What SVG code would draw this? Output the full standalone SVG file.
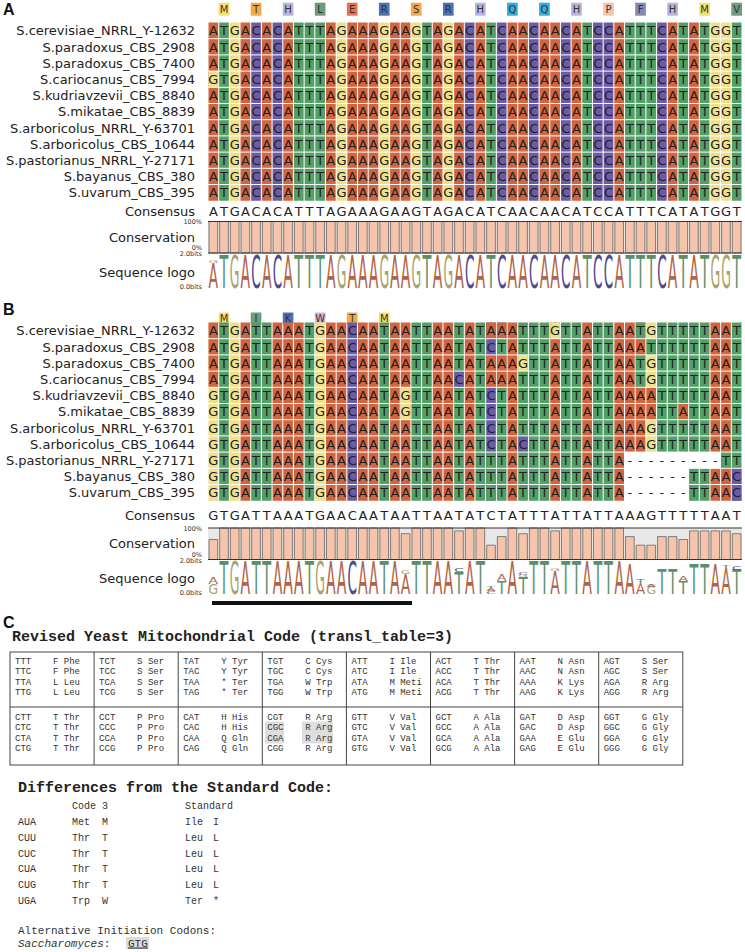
<svg xmlns="http://www.w3.org/2000/svg" xmlns:xlink="http://www.w3.org/1999/xlink" width="745" height="952" viewBox="0 0 745 952">
<style>
text{font-family:"DejaVu Sans",sans-serif}
.pl{font-family:"Liberation Sans",Arial,sans-serif;font-weight:bold;font-size:16px;fill:#111}
.nm{font-size:13px;fill:#222;text-anchor:end}
.sq{font-size:13px;fill:#222;text-anchor:middle}
.sm{font-size:6.5px;fill:#333;text-anchor:end}
.aa text{font-size:10px;fill:#333;text-anchor:middle}
.ca,.ct,.cg,.cc{fill:none;stroke-width:9.68}
.ca{stroke:#d2643f}.ct{stroke:#52a067}.cg{stroke:#efe08b}.cc{stroke:#6b5ca8}
.gl{stroke:#fff;stroke-width:1;fill:none}
.bar{fill:#f6c3ab;stroke:#666;stroke-width:0.8}
.bg{fill:#e8e8e8}
.ax{stroke:#333;stroke-width:1}
.L{font-size:10px;text-anchor:middle}
.la{fill:#b0644a}.lt{fill:#5b8e6b}.lg{fill:#a9a36b}.lc{fill:#4f4a8d}
.tt{font-family:"Liberation Mono",monospace;font-weight:bold;font-size:15px;fill:#222}
.tb{font-family:"Liberation Mono",monospace;font-size:9px;fill:#333}
.df{font-family:"Liberation Mono",monospace;font-size:10px;fill:#333}
.al{font-family:"Liberation Mono",monospace;font-size:11px;fill:#333}
</style>
<defs>
<text id="sA" class="sq" x="213.34 224.02 234.7 245.38 256.06 266.74 277.42 288.1 298.78 309.46 320.14 330.82 341.5 352.18 362.86 373.54 384.22 394.9 405.58 416.26 426.94 437.62 448.3 458.98 469.66 480.34 491.02 501.7 512.38 523.06 533.74 544.42 555.1 565.78 576.46 587.14 597.82 608.5 619.18 629.86 640.54 651.22 661.9 672.58 683.26 693.94 704.62 715.3 725.98 736.66">ATGACACATTTAGAAAGAAGTAGACATCAACAACATCCATTTCATATGGT</text>
<text id="sA3" class="sq" x="213.34 224.02 234.7 245.38 256.06 266.74 277.42 288.1 298.78 309.46 320.14 330.82 341.5 352.18 362.86 373.54 384.22 394.9 405.58 416.26 426.94 437.62 448.3 458.98 469.66 480.34 491.02 501.7 512.38 523.06 533.74 544.42 555.1 565.78 576.46 587.14 597.82 608.5 619.18 629.86 640.54 651.22 661.9 672.58 683.26 693.94 704.62 715.3 725.98 736.66">GTGACACATTTAGAAAGAAGTAGACATCAACAACATCCATTTCATATGGT</text>
<text id="b0" class="sq" x="213.34 224.02 234.7 245.38 256.06 266.74 277.42 288.1 298.78 309.46 320.14 330.82 341.5 352.18 362.86 373.54 384.22 394.9 405.58 416.26 426.94 437.62 448.3 458.98 469.66 480.34 491.02 501.7 512.38 523.06 533.74 544.42 555.1 565.78 576.46 587.14 597.82 608.5 619.18 629.86 640.54 651.22 661.9 672.58 683.26 693.94 704.62 715.3 725.98 736.66">ATGATTAAATGAACAATAATTAATATAAATTTGTTATTAATGTTTTTAAT</text>
<text id="b1" class="sq" x="213.34 224.02 234.7 245.38 256.06 266.74 277.42 288.1 298.78 309.46 320.14 330.82 341.5 352.18 362.86 373.54 384.22 394.9 405.58 416.26 426.94 437.62 448.3 458.98 469.66 480.34 491.02 501.7 512.38 523.06 533.74 544.42 555.1 565.78 576.46 587.14 597.82 608.5 619.18 629.86 640.54 651.22 661.9 672.58 683.26 693.94 704.62 715.3 725.98 736.66">ATGATTAAATGAACAATAATTAATATCTATTTATTATTAAATTTTTTAAT</text>
<text id="b2" class="sq" x="213.34 224.02 234.7 245.38 256.06 266.74 277.42 288.1 298.78 309.46 320.14 330.82 341.5 352.18 362.86 373.54 384.22 394.9 405.58 416.26 426.94 437.62 448.3 458.98 469.66 480.34 491.02 501.7 512.38 523.06 533.74 544.42 555.1 565.78 576.46 587.14 597.82 608.5 619.18 629.86 640.54 651.22 661.9 672.58 683.26 693.94 704.62 715.3 725.98 736.66">ATGATTAAATGAACAATAATTAATATAAAGTTATTATTAATGTTTTTAAT</text>
<text id="b3" class="sq" x="213.34 224.02 234.7 245.38 256.06 266.74 277.42 288.1 298.78 309.46 320.14 330.82 341.5 352.18 362.86 373.54 384.22 394.9 405.58 416.26 426.94 437.62 448.3 458.98 469.66 480.34 491.02 501.7 512.38 523.06 533.74 544.42 555.1 565.78 576.46 587.14 597.82 608.5 619.18 629.86 640.54 651.22 661.9 672.58 683.26 693.94 704.62 715.3 725.98 736.66">ATGATTAAATGAACAATAATTAACATAAATTTATTATTAATGTTTTTAAT</text>
<text id="b4" class="sq" x="213.34 224.02 234.7 245.38 256.06 266.74 277.42 288.1 298.78 309.46 320.14 330.82 341.5 352.18 362.86 373.54 384.22 394.9 405.58 416.26 426.94 437.62 448.3 458.98 469.66 480.34 491.02 501.7 512.38 523.06 533.74 544.42 555.1 565.78 576.46 587.14 597.82 608.5 619.18 629.86 640.54 651.22 661.9 672.58 683.26 693.94 704.62 715.3 725.98 736.66">GTGATTAAATGAACAATAGTTAATATCTATTTATTATTAAAATTTTTAAT</text>
<text id="b5" class="sq" x="213.34 224.02 234.7 245.38 256.06 266.74 277.42 288.1 298.78 309.46 320.14 330.82 341.5 352.18 362.86 373.54 384.22 394.9 405.58 416.26 426.94 437.62 448.3 458.98 469.66 480.34 491.02 501.7 512.38 523.06 533.74 544.42 555.1 565.78 576.46 587.14 597.82 608.5 619.18 629.86 640.54 651.22 661.9 672.58 683.26 693.94 704.62 715.3 725.98 736.66">GTGATTAAATGAACAATAGTTAATATCTATTTATTATTAAAATTATTAAT</text>
<text id="b6" class="sq" x="213.34 224.02 234.7 245.38 256.06 266.74 277.42 288.1 298.78 309.46 320.14 330.82 341.5 352.18 362.86 373.54 384.22 394.9 405.58 416.26 426.94 437.62 448.3 458.98 469.66 480.34 491.02 501.7 512.38 523.06 533.74 544.42 555.1 565.78 576.46 587.14 597.82 608.5 619.18 629.86 640.54 651.22 661.9 672.58 683.26 693.94 704.62 715.3 725.98 736.66">GTGATTAAATGAACAATAATTAATATCTATTTATTATTAAAGTTTTTAAT</text>
<text id="b7" class="sq" x="213.34 224.02 234.7 245.38 256.06 266.74 277.42 288.1 298.78 309.46 320.14 330.82 341.5 352.18 362.86 373.54 384.22 394.9 405.58 416.26 426.94 437.62 448.3 458.98 469.66 480.34 491.02 501.7 512.38 523.06 533.74 544.42 555.1 565.78 576.46 587.14 597.82 608.5 619.18 629.86 640.54 651.22 661.9 672.58 683.26 693.94 704.62 715.3 725.98 736.66">GTGATTAAATGAACAATAATTAATATCTACTTATTATTAAAGTTTTTAAT</text>
<text id="b8" class="sq" x="213.34 224.02 234.7 245.38 256.06 266.74 277.42 288.1 298.78 309.46 320.14 330.82 341.5 352.18 362.86 373.54 384.22 394.9 405.58 416.26 426.94 437.62 448.3 458.98 469.66 480.34 491.02 501.7 512.38 523.06 533.74 544.42 555.1 565.78 576.46 587.14 597.82 608.5 619.18 629.86 640.54 651.22 661.9 672.58 683.26 693.94 704.62 715.3 725.98 736.66">GTGATTAAATGAACAATAATTAATATTTATTTATTATTA---------TT</text>
<text id="b9" class="sq" x="213.34 224.02 234.7 245.38 256.06 266.74 277.42 288.1 298.78 309.46 320.14 330.82 341.5 352.18 362.86 373.54 384.22 394.9 405.58 416.26 426.94 437.62 448.3 458.98 469.66 480.34 491.02 501.7 512.38 523.06 533.74 544.42 555.1 565.78 576.46 587.14 597.82 608.5 619.18 629.86 640.54 651.22 661.9 672.58 683.26 693.94 704.62 715.3 725.98 736.66">GTGATTAAATGAACAATAATTAATATTTATTTATTATTA------TTAAC</text>
<text id="bc" class="sq" x="213.34 224.02 234.7 245.38 256.06 266.74 277.42 288.1 298.78 309.46 320.14 330.82 341.5 352.18 362.86 373.54 384.22 394.9 405.58 416.26 426.94 437.62 448.3 458.98 469.66 480.34 491.02 501.7 512.38 523.06 533.74 544.42 555.1 565.78 576.46 587.14 597.82 608.5 619.18 629.86 640.54 651.22 661.9 672.58 683.26 693.94 704.62 715.3 725.98 736.66">GTGATTAAATGAACAATAATTAATATCTATTTATTATTAAAGTTTTTAAT</text>
<path id="hgrid" class="gl" d="M208 38.7H742M208 54.9H742M208 71.1H742M208 87.3H742M208 103.5H742M208 119.7H742M208 135.9H742M208 152.1H742M208 168.3H742M208 184.5H742"/>
</defs>

<g id="labels">
<text class="pl" x="3" y="15">A</text>
<text class="pl" x="3" y="315">B</text>
<text class="pl" x="3" y="628">C</text>
</g>

<g id="panelA-names" class="nm">
<text class="nm" x="195" y="35.3">S.cerevisiae_NRRL_Y-12632</text>
<text class="nm" x="195" y="51.5">S.paradoxus_CBS_2908</text>
<text class="nm" x="195" y="67.7">S.paradoxus_CBS_7400</text>
<text class="nm" x="195" y="83.9">S.cariocanus_CBS_7994</text>
<text class="nm" x="195" y="100.1">S.kudriavzevii_CBS_8840</text>
<text class="nm" x="195" y="116.3">S.mikatae_CBS_8839</text>
<text class="nm" x="195" y="132.5">S.arboricolus_NRRL_Y-63701</text>
<text class="nm" x="195" y="148.7">S.arboricolus_CBS_10644</text>
<text class="nm" x="195" y="164.9">S.pastorianus_NRRL_Y-27171</text>
<text class="nm" x="195" y="181.1">S.bayanus_CBS_380</text>
<text class="nm" x="195" y="197.3">S.uvarum_CBS_395</text>
<text class="nm" x="195" y="215.5">Consensus</text>
<text class="nm" x="195" y="242">Conservation</text>
<text class="nm" x="195" y="276.5">Sequence logo</text>
<text class="sm" x="202" y="224">100%</text>
<text class="sm" x="202" y="250">0%</text>
<text class="sm" x="202" y="255.5">2.0bits</text>
<text class="sm" x="202" y="288.5">0.0bits</text>
</g>

<g id="panelB-names">
<text class="nm" x="195" y="335.3">S.cerevisiae_NRRL_Y-12632</text>
<text class="nm" x="195" y="351.5">S.paradoxus_CBS_2908</text>
<text class="nm" x="195" y="367.7">S.paradoxus_CBS_7400</text>
<text class="nm" x="195" y="383.9">S.cariocanus_CBS_7994</text>
<text class="nm" x="195" y="400.1">S.kudriavzevii_CBS_8840</text>
<text class="nm" x="195" y="416.3">S.mikatae_CBS_8839</text>
<text class="nm" x="195" y="432.5">S.arboricolus_NRRL_Y-63701</text>
<text class="nm" x="195" y="448.7">S.arboricolus_CBS_10644</text>
<text class="nm" x="195" y="464.9">S.pastorianus_NRRL_Y-27171</text>
<text class="nm" x="195" y="481.1">S.bayanus_CBS_380</text>
<text class="nm" x="195" y="497.3">S.uvarum_CBS_395</text>
<text class="nm" x="195" y="520">Consensus</text>
<text class="nm" x="195" y="547.5">Conservation</text>
<text class="nm" x="195" y="582.5">Sequence logo</text>
<text class="sm" x="202" y="530.5">100%</text>
<text class="sm" x="202" y="557">0%</text>
<text class="sm" x="202" y="562.5">2.0bits</text>
<text class="sm" x="202" y="594.5">0.0bits</text>
</g>

<g id="aaA" class="aa">
<rect x="218.68" y="2.7" width="10.68" height="13" fill="#f3e06e"/><text x="224.02" y="12.8">M</text>
<rect x="250.72" y="2.7" width="10.68" height="13" fill="#f2a94a"/><text x="256.06" y="12.8">T</text>
<rect x="282.76" y="2.7" width="10.68" height="13" fill="#b9b5d9"/><text x="288.1" y="12.8">H</text>
<rect x="314.8" y="2.7" width="10.68" height="13" fill="#6b9b7b"/><text x="320.14" y="12.8">L</text>
<rect x="346.84" y="2.7" width="10.68" height="13" fill="#e5714f"/><text x="352.18" y="12.8">E</text>
<rect x="378.88" y="2.7" width="10.68" height="13" fill="#4e72b1"/><text x="384.22" y="12.8">R</text>
<rect x="410.92" y="2.7" width="10.68" height="13" fill="#f3a94b"/><text x="416.26" y="12.8">S</text>
<rect x="442.96" y="2.7" width="10.68" height="13" fill="#4e72b1"/><text x="448.3" y="12.8">R</text>
<rect x="475" y="2.7" width="10.68" height="13" fill="#b9b5d9"/><text x="480.34" y="12.8">H</text>
<rect x="507.04" y="2.7" width="10.68" height="13" fill="#33afd9"/><text x="512.38" y="12.8">Q</text>
<rect x="539.08" y="2.7" width="10.68" height="13" fill="#33afd9"/><text x="544.42" y="12.8">Q</text>
<rect x="571.12" y="2.7" width="10.68" height="13" fill="#b9b5d9"/><text x="576.46" y="12.8">H</text>
<rect x="603.16" y="2.7" width="10.68" height="13" fill="#f1c4ad"/><text x="608.5" y="12.8">P</text>
<rect x="635.2" y="2.7" width="10.68" height="13" fill="#8a85b9"/><text x="640.54" y="12.8">F</text>
<rect x="667.24" y="2.7" width="10.68" height="13" fill="#b9b5d9"/><text x="672.58" y="12.8">H</text>
<rect x="699.28" y="2.7" width="10.68" height="13" fill="#f3e06e"/><text x="704.62" y="12.8">M</text>
<rect x="731.32" y="2.7" width="10.68" height="13" fill="#6f9b80"/><text x="736.66" y="12.8">V</text>
</g>

<g id="aaB" class="aa">
<rect x="218.68" y="312.5" width="10.68" height="12" fill="#f3e06e"/><text x="224.02" y="322">M</text>
<rect x="250.72" y="312.5" width="10.68" height="12" fill="#6f9b80"/><text x="256.06" y="322">I</text>
<rect x="282.76" y="312.5" width="10.68" height="12" fill="#4e72b8"/><text x="288.1" y="322">K</text>
<rect x="314.8" y="312.5" width="10.68" height="12" fill="#d8b5d3"/><text x="320.14" y="322">W</text>
<rect x="346.84" y="312.5" width="10.68" height="12" fill="#f2a94a"/><text x="352.18" y="322">T</text>
<rect x="378.88" y="312.5" width="10.68" height="12" fill="#f3e06e"/><text x="384.22" y="322">M</text>
</g>

<g id="cellsA">
<path class="ca" d="M213.34 22.5V200.7M245.38 22.5V200.7M266.74 22.5V200.7M288.1 22.5V200.7M330.82 22.5V200.7M352.18 22.5V200.7M362.86 22.5V200.7M373.54 22.5V200.7M394.9 22.5V200.7M405.58 22.5V200.7M437.62 22.5V200.7M458.98 22.5V200.7M480.34 22.5V200.7M512.38 22.5V200.7M523.06 22.5V200.7M544.42 22.5V200.7M555.1 22.5V200.7M576.46 22.5V200.7M619.18 22.5V200.7M672.58 22.5V200.7M693.94 22.5V200.7"/>
<path class="ct" d="M224.02 22.5V200.7M298.78 22.5V200.7M309.46 22.5V200.7M320.14 22.5V200.7M426.94 22.5V200.7M491.02 22.5V200.7M587.14 22.5V200.7M629.86 22.5V200.7M640.54 22.5V200.7M651.22 22.5V200.7M683.26 22.5V200.7M704.62 22.5V200.7M736.66 22.5V200.7"/>
<path class="cg" d="M234.7 22.5V200.7M341.5 22.5V200.7M384.22 22.5V200.7M416.26 22.5V200.7M448.3 22.5V200.7M715.3 22.5V200.7M725.98 22.5V200.7M213.34 71.1V87.3"/>
<path class="cc" d="M256.06 22.5V200.7M277.42 22.5V200.7M469.66 22.5V200.7M501.7 22.5V200.7M533.74 22.5V200.7M565.78 22.5V200.7M597.82 22.5V200.7M608.5 22.5V200.7M661.9 22.5V200.7"/>
<use href="#hgrid"/>
</g>

<g id="seqA">
<use href="#sA" y="35.3"/>
<use href="#sA" y="51.5"/>
<use href="#sA" y="67.7"/>
<use href="#sA3" y="83.9"/>
<use href="#sA" y="100.1"/>
<use href="#sA" y="116.3"/>
<use href="#sA" y="132.5"/>
<use href="#sA" y="148.7"/>
<use href="#sA" y="164.9"/>
<use href="#sA" y="181.1"/>
<use href="#sA" y="197.3"/>
<use href="#sA" y="215.5"/>
</g>

<g id="cellsB" transform="translate(0 300)">
<path class="ca" d="M245.38 22.5V200.7M277.42 22.5V200.7M288.1 22.5V200.7M298.78 22.5V200.7M330.82 22.5V200.7M341.5 22.5V200.7M362.86 22.5V200.7M373.54 22.5V200.7M394.9 22.5V200.7M405.58 22.5V200.7M437.62 22.5V200.7M448.3 22.5V200.7M469.66 22.5V200.7M512.38 22.5V200.7M555.1 22.5V200.7M587.14 22.5V200.7M619.18 22.5V200.7M725.98 22.5V200.7M629.86 22.5V152.1M640.54 22.5V152.1M715.3 22.5V152.1M715.3 168.3V200.7"/>
<path class="ct" d="M224.02 22.5V200.7M256.06 22.5V200.7M266.74 22.5V200.7M309.46 22.5V200.7M384.22 22.5V200.7M416.26 22.5V200.7M426.94 22.5V200.7M458.98 22.5V200.7M480.34 22.5V200.7M501.7 22.5V200.7M523.06 22.5V200.7M533.74 22.5V200.7M544.42 22.5V200.7M565.78 22.5V200.7M576.46 22.5V200.7M597.82 22.5V200.7M608.5 22.5V200.7M736.66 22.5V200.7M661.9 22.5V152.1M672.58 22.5V152.1M683.26 22.5V152.1M693.94 22.5V152.1M693.94 168.3V200.7M704.62 22.5V152.1M704.62 168.3V200.7"/>
<path class="cg" d="M213.34 22.5V200.7M234.7 22.5V200.7M320.14 22.5V200.7M651.22 22.5V152.1"/>
<path class="cc" d="M352.18 22.5V200.7M491.02 22.5V200.7"/>
<path class="ca" d="M213.34 22.5V87.3M491.02 22.5V38.7M491.02 54.9V87.3M501.7 22.5V38.7M501.7 54.9V87.3M651.22 87.3V119.7M683.26 103.5V119.7"/>
<path class="ct" d="M491.02 152.1V200.7M640.54 22.5V38.7M640.54 54.9V87.3M651.22 38.7V54.9M725.98 152.1V168.3"/>
<path class="cg" d="M405.58 87.3V119.7M523.06 54.9V71.1M555.1 22.5V38.7"/>
<path class="cc" d="M458.98 71.1V87.3M523.06 135.9V152.1M736.66 168.3V200.7"/>
<use href="#hgrid"/>
</g>

<g id="seqB">
<use href="#b0" y="335.3"/>
<use href="#b1" y="351.5"/>
<use href="#b2" y="367.7"/>
<use href="#b3" y="383.9"/>
<use href="#b4" y="400.1"/>
<use href="#b5" y="416.3"/>
<use href="#b6" y="432.5"/>
<use href="#b7" y="448.7"/>
<use href="#b8" y="464.9"/>
<use href="#b9" y="481.1"/>
<use href="#b9" y="497.3"/>
<use href="#bc" y="520"/>
</g>

<g id="conservationA">
<rect class="bg" x="208" y="221.5" width="534" height="31.5"/>
<path class="bar" d="M209 221.5h8.68v31.5h-8.68z m10.68 0h8.68v31.5h-8.68z m10.68 0h8.68v31.5h-8.68z m10.68 0h8.68v31.5h-8.68z m10.68 0h8.68v31.5h-8.68z m10.68 0h8.68v31.5h-8.68z m10.68 0h8.68v31.5h-8.68z m10.68 0h8.68v31.5h-8.68z m10.68 0h8.68v31.5h-8.68z m10.68 0h8.68v31.5h-8.68z m10.68 0h8.68v31.5h-8.68z m10.68 0h8.68v31.5h-8.68z m10.68 0h8.68v31.5h-8.68z m10.68 0h8.68v31.5h-8.68z m10.68 0h8.68v31.5h-8.68z m10.68 0h8.68v31.5h-8.68z m10.68 0h8.68v31.5h-8.68z m10.68 0h8.68v31.5h-8.68z m10.68 0h8.68v31.5h-8.68z m10.68 0h8.68v31.5h-8.68z m10.68 0h8.68v31.5h-8.68z m10.68 0h8.68v31.5h-8.68z m10.68 0h8.68v31.5h-8.68z m10.68 0h8.68v31.5h-8.68z m10.68 0h8.68v31.5h-8.68z m10.68 0h8.68v31.5h-8.68z m10.68 0h8.68v31.5h-8.68z m10.68 0h8.68v31.5h-8.68z m10.68 0h8.68v31.5h-8.68z m10.68 0h8.68v31.5h-8.68z m10.68 0h8.68v31.5h-8.68z m10.68 0h8.68v31.5h-8.68z m10.68 0h8.68v31.5h-8.68z m10.68 0h8.68v31.5h-8.68z m10.68 0h8.68v31.5h-8.68z m10.68 0h8.68v31.5h-8.68z m10.68 0h8.68v31.5h-8.68z m10.68 0h8.68v31.5h-8.68z m10.68 0h8.68v31.5h-8.68z m10.68 0h8.68v31.5h-8.68z m10.68 0h8.68v31.5h-8.68z m10.68 0h8.68v31.5h-8.68z m10.68 0h8.68v31.5h-8.68z m10.68 0h8.68v31.5h-8.68z m10.68 0h8.68v31.5h-8.68z m10.68 0h8.68v31.5h-8.68z m10.68 0h8.68v31.5h-8.68z m10.68 0h8.68v31.5h-8.68z m10.68 0h8.68v31.5h-8.68z m10.68 0h8.68v31.5h-8.68z"/>
<path class="ax" d="M208 221.5H742M208 253H742"/>
</g>

<g id="conservationB">
<rect class="bg" x="208" y="528" width="534" height="31.5"/>
<path class="bar" d="M209 559.5v-20h8.68v20z m10.68 0v-31.5h8.68v31.5z m10.68 0v-31.5h8.68v31.5z m10.68 0v-31.5h8.68v31.5z m10.68 0v-31.5h8.68v31.5z m10.68 0v-31.5h8.68v31.5z m10.68 0v-31.5h8.68v31.5z m10.68 0v-31.5h8.68v31.5z m10.68 0v-31.5h8.68v31.5z m10.68 0v-31.5h8.68v31.5z m10.68 0v-31.5h8.68v31.5z m10.68 0v-31.5h8.68v31.5z m10.68 0v-31.5h8.68v31.5z m10.68 0v-31.5h8.68v31.5z m10.68 0v-31.5h8.68v31.5z m10.68 0v-31.5h8.68v31.5z m10.68 0v-31.5h8.68v31.5z m10.68 0v-31.5h8.68v31.5z m10.68 0v-25.8h8.68v25.8z m10.68 0v-31.5h8.68v31.5z m10.68 0v-31.5h8.68v31.5z m10.68 0v-31.5h8.68v31.5z m10.68 0v-31.5h8.68v31.5z m10.68 0v-28.6h8.68v28.6z m10.68 0v-31.5h8.68v31.5z m10.68 0v-31.5h8.68v31.5z m10.68 0v-14.3h8.68v14.3z m10.68 0v-22.9h8.68v22.9z m10.68 0v-31.5h8.68v31.5z m10.68 0v-25.8h8.68v25.8z m10.68 0v-31.5h8.68v31.5z m10.68 0v-31.5h8.68v31.5z m10.68 0v-28.6h8.68v28.6z m10.68 0v-31.5h8.68v31.5z m10.68 0v-31.5h8.68v31.5z m10.68 0v-31.5h8.68v31.5z m10.68 0v-31.5h8.68v31.5z m10.68 0v-31.5h8.68v31.5z m10.68 0v-31.5h8.68v31.5z m10.68 0v-22.9h8.68v22.9z m10.68 0v-14.3h8.68v14.3z m10.68 0v-14.3h8.68v14.3z m10.68 0v-22.9h8.68v22.9z m10.68 0v-22.9h8.68v22.9z m10.68 0v-20h8.68v20z m10.68 0v-28.6h8.68v28.6z m10.68 0v-28.6h8.68v28.6z m10.68 0v-28.6h8.68v28.6z m10.68 0v-28.6h8.68v28.6z m10.68 0v-25.8h8.68v25.8z"/>
<path class="ax" d="M208 528H742M208 559.5H742"/>
</g>

<g id="logoA">
<text class="L la" transform="translate(213.34 288)scale(1.4 3.43)">A</text>
<text class="L lg" transform="translate(213.34 263)scale(1.25 0.41)">G</text>
<text class="L lt" transform="translate(224.02 288)scale(1.45 4.46)">T</text>
<text class="L lg" transform="translate(234.7 288)scale(1.25 4.46)">G</text>
<text class="L la" transform="translate(245.38 288)scale(1.4 4.46)">A</text>
<text class="L lc" transform="translate(256.06 288)scale(1.35 4.46)">C</text>
<text class="L la" transform="translate(266.74 288)scale(1.4 4.46)">A</text>
<text class="L lc" transform="translate(277.42 288)scale(1.35 4.46)">C</text>
<text class="L la" transform="translate(288.1 288)scale(1.4 4.46)">A</text>
<text class="L lt" transform="translate(298.78 288)scale(1.45 4.46)">T</text>
<text class="L lt" transform="translate(309.46 288)scale(1.45 4.46)">T</text>
<text class="L lt" transform="translate(320.14 288)scale(1.45 4.46)">T</text>
<text class="L la" transform="translate(330.82 288)scale(1.4 4.46)">A</text>
<text class="L lg" transform="translate(341.5 288)scale(1.25 4.46)">G</text>
<text class="L la" transform="translate(352.18 288)scale(1.4 4.46)">A</text>
<text class="L la" transform="translate(362.86 288)scale(1.4 4.46)">A</text>
<text class="L la" transform="translate(373.54 288)scale(1.4 4.46)">A</text>
<text class="L lg" transform="translate(384.22 288)scale(1.25 4.46)">G</text>
<text class="L la" transform="translate(394.9 288)scale(1.4 4.46)">A</text>
<text class="L la" transform="translate(405.58 288)scale(1.4 4.46)">A</text>
<text class="L lg" transform="translate(416.26 288)scale(1.25 4.46)">G</text>
<text class="L lt" transform="translate(426.94 288)scale(1.45 4.46)">T</text>
<text class="L la" transform="translate(437.62 288)scale(1.4 4.46)">A</text>
<text class="L lg" transform="translate(448.3 288)scale(1.25 4.46)">G</text>
<text class="L la" transform="translate(458.98 288)scale(1.4 4.46)">A</text>
<text class="L lc" transform="translate(469.66 288)scale(1.35 4.46)">C</text>
<text class="L la" transform="translate(480.34 288)scale(1.4 4.46)">A</text>
<text class="L lt" transform="translate(491.02 288)scale(1.45 4.46)">T</text>
<text class="L lc" transform="translate(501.7 288)scale(1.35 4.46)">C</text>
<text class="L la" transform="translate(512.38 288)scale(1.4 4.46)">A</text>
<text class="L la" transform="translate(523.06 288)scale(1.4 4.46)">A</text>
<text class="L lc" transform="translate(533.74 288)scale(1.35 4.46)">C</text>
<text class="L la" transform="translate(544.42 288)scale(1.4 4.46)">A</text>
<text class="L la" transform="translate(555.1 288)scale(1.4 4.46)">A</text>
<text class="L lc" transform="translate(565.78 288)scale(1.35 4.46)">C</text>
<text class="L la" transform="translate(576.46 288)scale(1.4 4.46)">A</text>
<text class="L lt" transform="translate(587.14 288)scale(1.45 4.46)">T</text>
<text class="L lc" transform="translate(597.82 288)scale(1.35 4.46)">C</text>
<text class="L lc" transform="translate(608.5 288)scale(1.35 4.46)">C</text>
<text class="L la" transform="translate(619.18 288)scale(1.4 4.46)">A</text>
<text class="L lt" transform="translate(629.86 288)scale(1.45 4.46)">T</text>
<text class="L lt" transform="translate(640.54 288)scale(1.45 4.46)">T</text>
<text class="L lt" transform="translate(651.22 288)scale(1.45 4.46)">T</text>
<text class="L lc" transform="translate(661.9 288)scale(1.35 4.46)">C</text>
<text class="L la" transform="translate(672.58 288)scale(1.4 4.46)">A</text>
<text class="L lt" transform="translate(683.26 288)scale(1.45 4.46)">T</text>
<text class="L la" transform="translate(693.94 288)scale(1.4 4.46)">A</text>
<text class="L lt" transform="translate(704.62 288)scale(1.45 4.46)">T</text>
<text class="L lg" transform="translate(715.3 288)scale(1.25 4.46)">G</text>
<text class="L lg" transform="translate(725.98 288)scale(1.25 4.46)">G</text>
<text class="L lt" transform="translate(736.66 288)scale(1.45 4.46)">T</text>
</g>

<g id="logoB">
<text class="L lg" transform="translate(213.34 594)scale(1.25 1.37)">G</text>
<text class="L la" transform="translate(213.34 583.5)scale(1.4 0.89)">A</text>
<text class="L lt" transform="translate(224.02 594)scale(1.45 4.46)">T</text>
<text class="L lg" transform="translate(234.7 594)scale(1.25 4.46)">G</text>
<text class="L la" transform="translate(245.38 594)scale(1.4 4.46)">A</text>
<text class="L lt" transform="translate(256.06 594)scale(1.45 4.46)">T</text>
<text class="L lt" transform="translate(266.74 594)scale(1.45 4.46)">T</text>
<text class="L la" transform="translate(277.42 594)scale(1.4 4.46)">A</text>
<text class="L la" transform="translate(288.1 594)scale(1.4 4.46)">A</text>
<text class="L la" transform="translate(298.78 594)scale(1.4 4.46)">A</text>
<text class="L lt" transform="translate(309.46 594)scale(1.45 4.46)">T</text>
<text class="L lg" transform="translate(320.14 594)scale(1.25 4.46)">G</text>
<text class="L la" transform="translate(330.82 594)scale(1.4 4.46)">A</text>
<text class="L la" transform="translate(341.5 594)scale(1.4 4.46)">A</text>
<text class="L lc" transform="translate(352.18 594)scale(1.35 4.46)">C</text>
<text class="L la" transform="translate(362.86 594)scale(1.4 4.46)">A</text>
<text class="L la" transform="translate(373.54 594)scale(1.4 4.46)">A</text>
<text class="L lt" transform="translate(384.22 594)scale(1.45 4.46)">T</text>
<text class="L la" transform="translate(394.9 594)scale(1.4 4.46)">A</text>
<text class="L la" transform="translate(405.58 594)scale(1.4 2.74)">A</text>
<text class="L lg" transform="translate(405.58 574)scale(1.25 0.55)">G</text>
<text class="L lt" transform="translate(416.26 594)scale(1.45 4.46)">T</text>
<text class="L lt" transform="translate(426.94 594)scale(1.45 4.46)">T</text>
<text class="L la" transform="translate(437.62 594)scale(1.4 4.46)">A</text>
<text class="L la" transform="translate(448.3 594)scale(1.4 4.46)">A</text>
<text class="L lt" transform="translate(458.98 594)scale(1.45 3.02)">T</text>
<text class="L lc" transform="translate(458.98 572)scale(1.35 0.48)">C</text>
<text class="L la" transform="translate(469.66 594)scale(1.4 4.46)">A</text>
<text class="L lt" transform="translate(480.34 594)scale(1.45 4.46)">T</text>
<text class="L lc" transform="translate(491.02 594)scale(1.35 0.41)">C</text>
<text class="L la" transform="translate(491.02 591)scale(1.4 0.27)">A</text>
<text class="L lt" transform="translate(491.02 589)scale(1.45 0.27)">T</text>
<text class="L lt" transform="translate(501.7 594)scale(1.45 1.78)">T</text>
<text class="L la" transform="translate(501.7 581)scale(1.4 0.82)">A</text>
<text class="L la" transform="translate(512.38 594)scale(1.4 4.46)">A</text>
<text class="L lt" transform="translate(523.06 594)scale(1.45 2.33)">T</text>
<text class="L lg" transform="translate(523.06 577)scale(1.25 0.3)">G</text>
<text class="L lc" transform="translate(523.06 574.8)scale(1.35 0.3)">C</text>
<text class="L lt" transform="translate(533.74 594)scale(1.45 4.46)">T</text>
<text class="L lt" transform="translate(544.42 594)scale(1.45 4.46)">T</text>
<text class="L la" transform="translate(555.1 594)scale(1.4 3.16)">A</text>
<text class="L lg" transform="translate(555.1 571)scale(1.25 0.41)">G</text>
<text class="L lt" transform="translate(565.78 594)scale(1.45 4.46)">T</text>
<text class="L lt" transform="translate(576.46 594)scale(1.45 4.46)">T</text>
<text class="L la" transform="translate(587.14 594)scale(1.4 4.46)">A</text>
<text class="L lt" transform="translate(597.82 594)scale(1.45 4.46)">T</text>
<text class="L lt" transform="translate(608.5 594)scale(1.45 4.46)">T</text>
<text class="L la" transform="translate(619.18 594)scale(1.4 4.46)">A</text>
<text class="L la" transform="translate(629.86 594)scale(1.4 4.12)">A</text>
<text class="L la" transform="translate(640.54 594)scale(1.4 1.37)">A</text>
<text class="L lt" transform="translate(640.54 584)scale(1.45 0.69)">T</text>
<text class="L lg" transform="translate(651.22 594)scale(1.25 0.96)">G</text>
<text class="L la" transform="translate(651.22 587)scale(1.4 0.34)">A</text>
<text class="L lt" transform="translate(651.22 584.5)scale(1.45 0.21)">T</text>
<text class="L lt" transform="translate(661.9 594)scale(1.45 3.29)">T</text>
<text class="L lt" transform="translate(672.58 594)scale(1.45 3.29)">T</text>
<text class="L lt" transform="translate(683.26 594)scale(1.45 1.78)">T</text>
<text class="L la" transform="translate(683.26 581)scale(1.4 0.62)">A</text>
<text class="L lt" transform="translate(693.94 594)scale(1.45 4.12)">T</text>
<text class="L lt" transform="translate(704.62 594)scale(1.45 4.12)">T</text>
<text class="L la" transform="translate(715.3 594)scale(1.4 4.12)">A</text>
<text class="L la" transform="translate(725.98 594)scale(1.4 3.57)">A</text>
<text class="L lt" transform="translate(725.98 568)scale(1.45 0.41)">T</text>
<text class="L lt" transform="translate(736.66 594)scale(1.45 3.29)">T</text>
<text class="L lc" transform="translate(736.66 570)scale(1.35 0.55)">C</text>
<rect x="212" y="601" width="200" height="4" fill="#111"/>
</g>

<g id="panelC">
<text class="tt" x="12" y="641">Revised Yeast Mitochondrial Code (transl_table=3)</text>
<g id="codon-table">
<rect x="265" y="721.5" width="19" height="22" fill="#dedede"/>
<rect x="302" y="721.5" width="31" height="22" fill="#dedede"/>
<rect x="10" y="652" width="672.8" height="113" fill="none" stroke="#444" stroke-width="1"/>
<path d="M10 707H682.8M94.1 652V765M178.2 652V765M262.3 652V765M346.4 652V765M430.5 652V765M514.6 652V765M598.7 652V765" stroke="#444" stroke-width="1" fill="none"/>
<g class="tb">
<text class="tb" x="15" y="663.5">TTT<tspan x="15" dy="10.5">TTC</tspan><tspan x="15" dy="10.5">TTA</tspan><tspan x="15" dy="10.5">TTG</tspan></text>
<text class="tb" x="53" y="663.5">F Phe<tspan x="53" dy="10.5">F Phe</tspan><tspan x="53" dy="10.5">L Leu</tspan><tspan x="53" dy="10.5">L Leu</tspan></text>
<text class="tb" x="99.1" y="663.5">TCT<tspan x="99.1" dy="10.5">TCC</tspan><tspan x="99.1" dy="10.5">TCA</tspan><tspan x="99.1" dy="10.5">TCG</tspan></text>
<text class="tb" x="137.1" y="663.5">S Ser<tspan x="137.1" dy="10.5">S Ser</tspan><tspan x="137.1" dy="10.5">S Ser</tspan><tspan x="137.1" dy="10.5">S Ser</tspan></text>
<text class="tb" x="183.2" y="663.5">TAT<tspan x="183.2" dy="10.5">TAC</tspan><tspan x="183.2" dy="10.5">TAA</tspan><tspan x="183.2" dy="10.5">TAG</tspan></text>
<text class="tb" x="221.2" y="663.5">Y Tyr<tspan x="221.2" dy="10.5">Y Tyr</tspan><tspan x="221.2" dy="10.5">* Ter</tspan><tspan x="221.2" dy="10.5">* Ter</tspan></text>
<text class="tb" x="267.3" y="663.5">TGT<tspan x="267.3" dy="10.5">TGC</tspan><tspan x="267.3" dy="10.5">TGA</tspan><tspan x="267.3" dy="10.5">TGG</tspan></text>
<text class="tb" x="305.3" y="663.5">C Cys<tspan x="305.3" dy="10.5">C Cys</tspan><tspan x="305.3" dy="10.5">W Trp</tspan><tspan x="305.3" dy="10.5">W Trp</tspan></text>
<text class="tb" x="351.4" y="663.5">ATT<tspan x="351.4" dy="10.5">ATC</tspan><tspan x="351.4" dy="10.5">ATA</tspan><tspan x="351.4" dy="10.5">ATG</tspan></text>
<text class="tb" x="389.4" y="663.5">I Ile<tspan x="389.4" dy="10.5">I Ile</tspan><tspan x="389.4" dy="10.5">M Meti</tspan><tspan x="389.4" dy="10.5">M Meti</tspan></text>
<text class="tb" x="435.5" y="663.5">ACT<tspan x="435.5" dy="10.5">ACC</tspan><tspan x="435.5" dy="10.5">ACA</tspan><tspan x="435.5" dy="10.5">ACG</tspan></text>
<text class="tb" x="473.5" y="663.5">T Thr<tspan x="473.5" dy="10.5">T Thr</tspan><tspan x="473.5" dy="10.5">T Thr</tspan><tspan x="473.5" dy="10.5">T Thr</tspan></text>
<text class="tb" x="519.6" y="663.5">AAT<tspan x="519.6" dy="10.5">AAC</tspan><tspan x="519.6" dy="10.5">AAA</tspan><tspan x="519.6" dy="10.5">AAG</tspan></text>
<text class="tb" x="557.6" y="663.5">N Asn<tspan x="557.6" dy="10.5">N Asn</tspan><tspan x="557.6" dy="10.5">K Lys</tspan><tspan x="557.6" dy="10.5">K Lys</tspan></text>
<text class="tb" x="603.7" y="663.5">AGT<tspan x="603.7" dy="10.5">AGC</tspan><tspan x="603.7" dy="10.5">AGA</tspan><tspan x="603.7" dy="10.5">AGG</tspan></text>
<text class="tb" x="641.7" y="663.5">S Ser<tspan x="641.7" dy="10.5">S Ser</tspan><tspan x="641.7" dy="10.5">R Arg</tspan><tspan x="641.7" dy="10.5">R Arg</tspan></text>
<text class="tb" x="15" y="719.5">CTT<tspan x="15" dy="10.5">CTC</tspan><tspan x="15" dy="10.5">CTA</tspan><tspan x="15" dy="10.5">CTG</tspan></text>
<text class="tb" x="53" y="719.5">T Thr<tspan x="53" dy="10.5">T Thr</tspan><tspan x="53" dy="10.5">T Thr</tspan><tspan x="53" dy="10.5">T Thr</tspan></text>
<text class="tb" x="99.1" y="719.5">CCT<tspan x="99.1" dy="10.5">CCC</tspan><tspan x="99.1" dy="10.5">CCA</tspan><tspan x="99.1" dy="10.5">CCG</tspan></text>
<text class="tb" x="137.1" y="719.5">P Pro<tspan x="137.1" dy="10.5">P Pro</tspan><tspan x="137.1" dy="10.5">P Pro</tspan><tspan x="137.1" dy="10.5">P Pro</tspan></text>
<text class="tb" x="183.2" y="719.5">CAT<tspan x="183.2" dy="10.5">CAC</tspan><tspan x="183.2" dy="10.5">CAA</tspan><tspan x="183.2" dy="10.5">CAG</tspan></text>
<text class="tb" x="221.2" y="719.5">H His<tspan x="221.2" dy="10.5">H His</tspan><tspan x="221.2" dy="10.5">Q Gln</tspan><tspan x="221.2" dy="10.5">Q Gln</tspan></text>
<text class="tb" x="267.3" y="719.5">CGT<tspan x="267.3" dy="10.5">CGC</tspan><tspan x="267.3" dy="10.5">CGA</tspan><tspan x="267.3" dy="10.5">CGG</tspan></text>
<text class="tb" x="305.3" y="719.5">R Arg<tspan x="305.3" dy="10.5">R Arg</tspan><tspan x="305.3" dy="10.5">R Arg</tspan><tspan x="305.3" dy="10.5">R Arg</tspan></text>
<text class="tb" x="351.4" y="719.5">GTT<tspan x="351.4" dy="10.5">GTC</tspan><tspan x="351.4" dy="10.5">GTA</tspan><tspan x="351.4" dy="10.5">GTG</tspan></text>
<text class="tb" x="389.4" y="719.5">V Val<tspan x="389.4" dy="10.5">V Val</tspan><tspan x="389.4" dy="10.5">V Val</tspan><tspan x="389.4" dy="10.5">V Val</tspan></text>
<text class="tb" x="435.5" y="719.5">GCT<tspan x="435.5" dy="10.5">GCC</tspan><tspan x="435.5" dy="10.5">GCA</tspan><tspan x="435.5" dy="10.5">GCG</tspan></text>
<text class="tb" x="473.5" y="719.5">A Ala<tspan x="473.5" dy="10.5">A Ala</tspan><tspan x="473.5" dy="10.5">A Ala</tspan><tspan x="473.5" dy="10.5">A Ala</tspan></text>
<text class="tb" x="519.6" y="719.5">GAT<tspan x="519.6" dy="10.5">GAC</tspan><tspan x="519.6" dy="10.5">GAA</tspan><tspan x="519.6" dy="10.5">GAG</tspan></text>
<text class="tb" x="557.6" y="719.5">D Asp<tspan x="557.6" dy="10.5">D Asp</tspan><tspan x="557.6" dy="10.5">E Glu</tspan><tspan x="557.6" dy="10.5">E Glu</tspan></text>
<text class="tb" x="603.7" y="719.5">GGT<tspan x="603.7" dy="10.5">GGC</tspan><tspan x="603.7" dy="10.5">GGA</tspan><tspan x="603.7" dy="10.5">GGG</tspan></text>
<text class="tb" x="641.7" y="719.5">G Gly<tspan x="641.7" dy="10.5">G Gly</tspan><tspan x="641.7" dy="10.5">G Gly</tspan><tspan x="641.7" dy="10.5">G Gly</tspan></text>
</g>
</g>
<g id="differences">
<text class="tt" x="18" y="792">Differences from the Standard Code:</text>
<text class="df" x="72" y="808.5">Code 3</text>
<text class="df" x="185" y="808.5">Standard</text>
<text class="df" y="825.2"><tspan x="18">AUA</tspan><tspan x="72">Met</tspan><tspan x="102">M</tspan><tspan x="185">Ile</tspan><tspan x="213">I</tspan></text>
<text class="df" y="840.9"><tspan x="18">CUU</tspan><tspan x="72">Thr</tspan><tspan x="102">T</tspan><tspan x="185">Leu</tspan><tspan x="213">L</tspan></text>
<text class="df" y="856.5"><tspan x="18">CUC</tspan><tspan x="72">Thr</tspan><tspan x="102">T</tspan><tspan x="185">Leu</tspan><tspan x="213">L</tspan></text>
<text class="df" y="872.2"><tspan x="18">CUA</tspan><tspan x="72">Thr</tspan><tspan x="102">T</tspan><tspan x="185">Leu</tspan><tspan x="213">L</tspan></text>
<text class="df" y="887.9"><tspan x="18">CUG</tspan><tspan x="72">Thr</tspan><tspan x="102">T</tspan><tspan x="185">Leu</tspan><tspan x="213">L</tspan></text>
<text class="df" y="903.5"><tspan x="18">UGA</tspan><tspan x="72">Trp</tspan><tspan x="102">W</tspan><tspan x="185">Ter</tspan><tspan x="213">*</tspan></text>
</g>
<g id="initiation">
<text class="al" x="18" y="933.5">Alternative Initiation Codons:</text>
<rect x="126" y="937" width="23" height="12" fill="#dcdcdc"/>
<text class="al" x="18" y="946.5"><tspan font-style="italic">Saccharomyces</tspan>: <tspan x="128" text-decoration="underline">GTG</tspan></text>
</g>
</g>
</svg>
